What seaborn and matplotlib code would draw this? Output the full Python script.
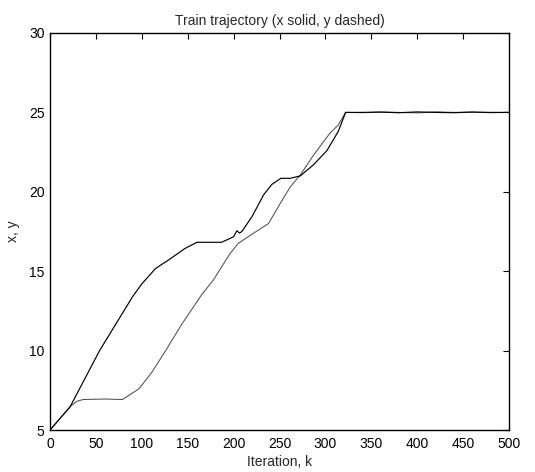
import matplotlib
matplotlib.use("Agg")
import matplotlib.pyplot as plt
import seaborn as sns
import pandas as pd

sns.set_theme(style="white")
plt.rcParams["font.family"] = ["Liberation Sans", "DejaVu Sans"]

# x trajectory (solid, black)
x_iter = [0, 22, 54, 90, 100, 115, 129, 147, 160, 187, 200, 203.6, 206.5, 209,
          220, 232.6, 241.7, 251.5, 261.7, 272.6, 287, 301.7, 314, 322, 340,
          360, 380, 400, 420, 440, 460, 480, 500]
x_vals = [5.0, 6.47, 10.0, 13.4, 14.2, 15.17, 15.7, 16.43, 16.82, 16.82, 17.17,
          17.55, 17.4, 17.5, 18.43, 19.8, 20.47, 20.85, 20.85, 21.0, 21.7, 22.6,
          23.8, 25.0, 25.0, 25.02, 24.98, 25.03, 25.0, 24.98, 25.02, 25.0, 25.0]

# y trajectory (thin grey line)
y_iter = [0, 22, 29, 36, 60, 79, 97, 111, 126, 144, 165, 178, 196, 205, 221.7,
          238, 250.8, 261.7, 272.6, 287, 305, 314, 322, 340, 360, 380, 400,
          420, 440, 460, 480, 500]
y_vals = [5.0, 6.47, 6.8, 6.92, 6.95, 6.92, 7.6, 8.64, 10.0, 11.7, 13.5, 14.45,
          16.1, 16.75, 17.39, 18.0, 19.27, 20.3, 21.06, 22.3, 23.7, 24.2, 25.0,
          24.98, 25.02, 25.0, 24.97, 25.03, 25.0, 25.02, 24.98, 25.0]

x_ticks = [0, 50, 100, 150, 200, 250, 300, 350, 400, 450, 500]
y_ticks = [5, 10, 15, 20, 25, 30]

df_x = pd.DataFrame({"k": x_iter, "v": x_vals})
df_y = pd.DataFrame({"k": y_iter, "v": y_vals})

fig = plt.figure(figsize=(5.35, 4.72), dpi=100)
ax = fig.add_axes([50 / 535, 42 / 472, 459 / 535, 397 / 472])

sns.lineplot(data=df_y, x="k", y="v", ax=ax, color="#505050", linewidth=0.75,
             sort=False, estimator=None)
sns.lineplot(data=df_x, x="k", y="v", ax=ax, color="black", linewidth=0.85,
             sort=False, estimator=None)

ax.set_xlim(0, 500)
ax.set_ylim(5, 30)
ax.set_xticks(x_ticks)
ax.set_yticks(y_ticks)
ax.tick_params(direction="in", length=4, width=0.8, top=True, right=True,
               labelsize=10, colors="black")
ax.tick_params(axis="x", pad=5)
ax.tick_params(axis="y", pad=4)
for s in ax.spines.values():
    s.set_visible(True)
    s.set_color("black")
    s.set_linewidth(1.0)

ax.set_title("Train trajectory (x solid, y dashed)", fontsize=10, pad=6)
ax.set_xlabel("Iteration, k", fontsize=10, labelpad=3)
ax.set_ylabel("x, y", fontsize=10, labelpad=6)

fig.savefig("out.png", dpi=100)
